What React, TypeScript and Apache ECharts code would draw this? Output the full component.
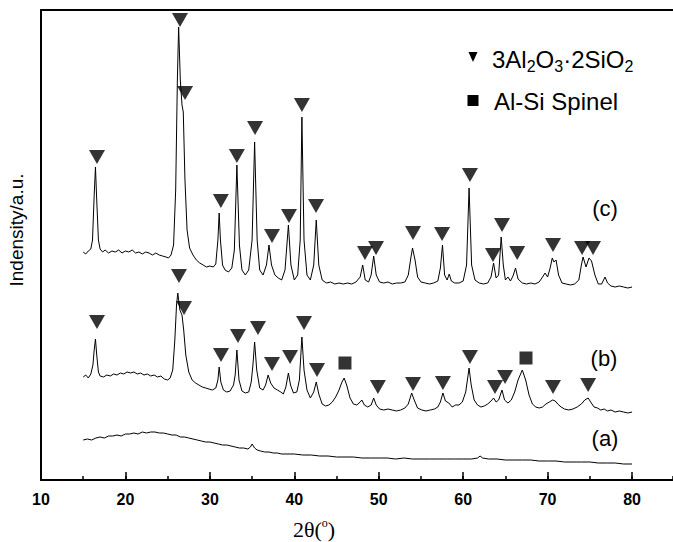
import React, { useEffect, useRef } from 'react';
import * as echarts from 'echarts';

// 2θ (degrees), intensity (a.u., offset stacked)
const traceA: [number, number][] = [
  [15.0, 40], [15.5, 41], [16.0, 40], [16.5, 42], [17.0, 43], [17.5, 42], [18.0, 44], [18.5, 44], [19.0, 45],
  [19.5, 44], [20.0, 46], [20.5, 46], [21.0, 47], [21.5, 46], [22.0, 48], [22.5, 47], [23.0, 48], [23.5, 48],
  [24.0, 47], [24.5, 47], [25.0, 46], [25.5, 45], [26.0, 45], [26.5, 43], [27.0, 43], [27.5, 42], [28.0, 41],
  [28.5, 40], [29.0, 39], [29.5, 38], [30.0, 38], [30.5, 37], [31.0, 36], [31.5, 35], [32.0, 35], [32.5, 34],
  [33.0, 33], [33.5, 32], [34.0, 32], [34.5, 31], [34.8, 33], [35.0, 36], [35.3, 32], [35.6, 30], [36.0, 29],
  [36.5, 28], [37.0, 28], [37.5, 27], [38.0, 27], [38.5, 26], [39.0, 26], [40.0, 26], [41.0, 25], [42.0, 25],
  [43.0, 24], [44.0, 24], [45.0, 23], [46.0, 23], [47.0, 23], [48.0, 22], [49.0, 22], [50.0, 22], [51.0, 22],
  [52.0, 21], [53.0, 22], [54.0, 21], [55.0, 21], [56.0, 21], [57.0, 21], [58.0, 21], [59.0, 21], [60.0, 21],
  [61.0, 21], [61.7, 22], [62.0, 24], [62.3, 22], [63.0, 21], [64.0, 21], [65.0, 20], [66.0, 20], [67.0, 20],
  [68.0, 20], [69.0, 19], [70.0, 19], [71.0, 19], [72.0, 18], [73.0, 18], [74.0, 18], [75.0, 18], [76.0, 17],
  [77.0, 17], [78.0, 17], [79.0, 16], [80.0, 16],
];

const traceB: [number, number][] = [
  [15.0, 103], [15.3, 105], [15.6, 102], [15.9, 106], [16.15, 115], [16.3, 130], [16.45, 141], [16.6, 125],
  [16.8, 108], [17.0, 104], [17.4, 103], [17.8, 105], [18.2, 104], [18.6, 106], [19.0, 105], [19.4, 107],
  [19.8, 106], [20.2, 108], [20.6, 107], [21.0, 108], [21.4, 106], [21.8, 107], [22.2, 105], [22.6, 106],
  [23.0, 104], [23.4, 105], [23.8, 103], [24.2, 104], [24.6, 101], [25.0, 100], [25.3, 102], [25.6, 110],
  [25.85, 140], [26.05, 175], [26.2, 187], [26.45, 170], [26.7, 165], [26.9, 150], [27.15, 125], [27.5, 108],
  [27.9, 100], [28.3, 97], [28.7, 95], [29.1, 93], [29.5, 92], [29.9, 91], [30.3, 90], [30.7, 92], [30.95, 100],
  [31.1, 113], [31.3, 98], [31.6, 90], [32.0, 88], [32.4, 89], [32.8, 95], [33.0, 105], [33.2, 130], [33.45, 100],
  [33.8, 89], [34.2, 87], [34.6, 88], [34.9, 98], [35.1, 115], [35.3, 138], [35.55, 110], [35.9, 92], [36.3, 90],
  [36.6, 95], [36.9, 105], [37.2, 97], [37.6, 92], [38.0, 90], [38.4, 88], [38.7, 86], [39.0, 93], [39.3, 107],
  [39.55, 95], [39.9, 87], [40.3, 88], [40.6, 100], [40.9, 143], [41.15, 110], [41.5, 90], [41.9, 82], [42.3, 88],
  [42.6, 98], [42.9, 86], [43.3, 76], [43.7, 74], [44.1, 75], [44.5, 78], [44.9, 83], [45.3, 90], [45.6, 97],
  [45.9, 102], [46.2, 95], [46.6, 82], [47.0, 76], [47.4, 75], [47.8, 78], [48.0, 80], [48.3, 75], [48.7, 73],
  [49.1, 75], [49.4, 82], [49.7, 75], [50.1, 71], [50.6, 70], [51.1, 71], [51.6, 70], [52.1, 69], [52.6, 70],
  [53.1, 72], [53.5, 76], [53.9, 87], [54.2, 80], [54.6, 72], [55.1, 70], [55.6, 69], [56.1, 70], [56.6, 71],
  [57.0, 73], [57.3, 78], [57.6, 87], [57.9, 79], [58.3, 77], [58.7, 73], [59.1, 75], [59.5, 75], [59.9, 78],
  [60.3, 88], [60.5, 100], [60.7, 112], [60.95, 95], [61.3, 80], [61.7, 75], [62.1, 73], [62.5, 74], [62.9, 76],
  [63.3, 79], [63.6, 82], [63.9, 78], [64.2, 80], [64.6, 90], [64.9, 80], [65.3, 77], [65.7, 80], [66.1, 88],
  [66.5, 100], [67.0, 110], [67.4, 100], [67.8, 85], [68.2, 76], [68.6, 73], [69.0, 72], [69.4, 73], [69.8, 76],
  [70.2, 78], [70.6, 80], [70.9, 79], [71.2, 76], [71.6, 73], [72.0, 71], [72.5, 70], [73.0, 71], [73.5, 73],
  [74.0, 76], [74.4, 80], [74.8, 82], [75.1, 78], [75.5, 73], [75.9, 72], [76.3, 70], [76.7, 71], [77.1, 69],
  [77.5, 70], [78.0, 68], [78.5, 69], [79.0, 68], [79.5, 67], [80.0, 68],
];

const traceC: [number, number][] = [
  [15.0, 228], [15.3, 226], [15.6, 229], [15.9, 231], [16.1, 240], [16.3, 285], [16.45, 313], [16.6, 280],
  [16.8, 240], [17.0, 231], [17.3, 228], [17.6, 230], [18.0, 227], [18.4, 229], [18.8, 228], [19.2, 230],
  [19.6, 227], [20.0, 229], [20.4, 228], [20.8, 230], [21.2, 227], [21.6, 228], [22.0, 226], [22.4, 228],
  [22.8, 227], [23.2, 225], [23.6, 227], [24.0, 225], [24.4, 224], [24.8, 223], [25.1, 222], [25.4, 225],
  [25.7, 235], [25.95, 290], [26.15, 400], [26.3, 453], [26.5, 400], [26.7, 375], [26.85, 368], [27.05, 300],
  [27.3, 250], [27.6, 232], [28.0, 225], [28.4, 220], [28.8, 217], [29.2, 215], [29.6, 213], [30.0, 214],
  [30.4, 213], [30.7, 216], [30.95, 240], [31.1, 267], [31.25, 240], [31.5, 215], [31.8, 210], [32.2, 208],
  [32.6, 212], [32.9, 230], [33.2, 315], [33.5, 235], [33.8, 210], [34.2, 205], [34.6, 210], [35.0, 240],
  [35.3, 338], [35.6, 240], [35.9, 210], [36.3, 205], [36.7, 215], [37.0, 235], [37.3, 215], [37.7, 205],
  [38.1, 202], [38.5, 200], [38.9, 210], [39.3, 255], [39.6, 215], [40.0, 200], [40.4, 205], [40.7, 240],
  [40.9, 363], [41.15, 240], [41.5, 205], [41.9, 200], [42.3, 215], [42.6, 260], [42.9, 215], [43.3, 200],
  [43.8, 197], [44.3, 198], [44.8, 196], [45.3, 197], [45.8, 196], [46.3, 197], [46.8, 196], [47.3, 198],
  [47.8, 203], [48.1, 215], [48.4, 200], [48.8, 198], [49.1, 205], [49.4, 224], [49.7, 205], [50.1, 198],
  [50.6, 197], [51.1, 198], [51.6, 196], [52.1, 197], [52.6, 197], [53.1, 198], [53.5, 205], [53.8, 222],
  [54.0, 232], [54.3, 220], [54.6, 203], [55.0, 198], [55.5, 197], [56.0, 196], [56.5, 197], [57.0, 199],
  [57.3, 212], [57.55, 235], [57.8, 205], [58.1, 200], [58.35, 206], [58.6, 199], [59.0, 197], [59.5, 197],
  [60.0, 199], [60.4, 215], [60.7, 292], [61.0, 215], [61.4, 200], [61.9, 197], [62.4, 196], [62.9, 197],
  [63.3, 203], [63.6, 217], [63.9, 202], [64.2, 205], [64.5, 243], [64.75, 215], [65.0, 200], [65.3, 203],
  [65.6, 199], [65.9, 204], [66.2, 212], [66.5, 201], [67.0, 197], [67.5, 196], [68.0, 197], [68.5, 196],
  [69.0, 198], [69.4, 203], [69.7, 207], [70.0, 203], [70.3, 212], [70.55, 222], [70.75, 218], [71.0, 220],
  [71.3, 205], [71.7, 197], [72.2, 196], [72.7, 195], [73.2, 196], [73.7, 200], [74.0, 215], [74.2, 223],
  [74.55, 213], [74.9, 222], [75.2, 219], [75.6, 205], [76.0, 196], [76.4, 196], [76.8, 203], [77.1, 197],
  [77.5, 194], [78.0, 193], [78.5, 194], [79.0, 193], [79.5, 192], [80.0, 193],
];

// mullite (3Al2O3·2SiO2) markers
const mulliteC: [number, number][] = [
  [16.63, 323], [26.46, 460], [27.06, 387], [31.3, 279], [33.2, 324], [35.35, 352], [37.36, 244], [39.37, 264],
  [40.9, 375], [42.57, 274], [48.37, 227], [49.68, 232], [54.06, 247], [57.5, 246], [60.8, 305], [63.53, 225],
  [64.6, 255], [66.4, 227], [70.64, 235], [74.08, 232], [75.38, 232],
];
const mulliteB: [number, number][] = [
  [16.63, 158], [26.34, 204], [26.94, 172], [31.32, 125], [33.33, 144], [35.7, 152], [37.36, 116], [39.5, 123],
  [41.15, 157], [42.69, 110], [49.9, 93], [54.06, 96], [57.6, 97], [60.8, 123], [63.77, 93], [64.96, 103],
  [70.64, 93], [74.8, 95],
];
// Al-Si spinel markers
const spinelB: [number, number][] = [[46.0, 117], [67.44, 122]];

const xTickValues = [10, 20, 30, 40, 50, 60, 70, 80];
const sampleLabels = ['(a)', '(b)', '(c)'];
const legendLabels = ['3Al2O3·2SiO2', 'Al-Si Spinel'];
const yTitle = 'Indensity/a.u.';

const SANS = '"Liberation Sans", Arial, Helvetica, sans-serif';
const SERIF = '"Liberation Serif", "Times New Roman", serif';

export default function App() {
  const ref = useRef<HTMLDivElement>(null);
  useEffect(() => {
    if (!ref.current) return;
    const chart = echarts.init(ref.current, null, { renderer: 'svg' });
    const lineSeries = (data: [number, number][]) => ({
      type: 'line', data, showSymbol: false, symbol: 'none', silent: true,
      lineStyle: { color: '#000', width: 1 }, xAxisIndex: 0, yAxisIndex: 0, z: 2,
    });
    const triSeries = (name: string, data: [number, number][]) => ({
      type: 'scatter', name, data, symbol: 'triangle', symbolRotate: 180, symbolSize: [16, 14],
      itemStyle: { color: '#000' }, xAxisIndex: 0, yAxisIndex: 0, z: 3, silent: true,
    });
    const hiddenAxis = { axisLabel: { show: false }, splitLine: { show: false } };
    const X_MAX = 84.85;
    const option: any = {
      animation: false,
      backgroundColor: '#fff',
      grid: { left: 41, right: 0, top: 10, bottom: 62, containLabel: false },
      xAxis: [
        {
          type: 'value', min: 10, max: X_MAX, interval: 10, position: 'bottom',
          axisLine: { show: true, lineStyle: { color: '#000', width: 2 } },
          axisTick: { show: true, inside: true, length: 8, lineStyle: { color: '#000', width: 1.5 } },
          axisLabel: {
            show: true, margin: 11, fontSize: 16, fontWeight: 'bold', color: '#000', fontFamily: SANS,
            showMaxLabel: false,
            formatter: (v: number) => (xTickValues.includes(v) ? String(v) : ''),
          },
          splitLine: { show: false },
        },
        {
          type: 'value', min: 10, max: X_MAX, interval: 5, position: 'bottom',
          axisLine: { show: false },
          axisTick: { show: true, inside: true, length: 4, lineStyle: { color: '#000', width: 1.5 } },
          ...hiddenAxis,
        },
        {
          type: 'value', min: 10, max: X_MAX, position: 'top',
          axisLine: { show: true, lineStyle: { color: '#000', width: 2 } },
          axisTick: { show: false }, ...hiddenAxis,
        },
      ],
      yAxis: {
        type: 'value', min: 0, max: 470,
        axisLine: { show: true, lineStyle: { color: '#000', width: 2 } },
        axisTick: { show: false }, ...hiddenAxis,
      },
      series: [
        lineSeries(traceA),
        lineSeries(traceB),
        lineSeries(traceC),
        triSeries(legendLabels[0], mulliteC),
        triSeries(legendLabels[0], mulliteB),
        {
          type: 'scatter', name: legendLabels[1], data: spinelB, symbol: 'rect', symbolSize: 13,
          itemStyle: { color: '#000' }, xAxisIndex: 0, yAxisIndex: 0, z: 3, silent: true,
        },
      ],
      graphic: [
        {
          type: 'text', x: 16, y: 230, rotation: Math.PI / 2,
          style: { text: yTitle, fontSize: 19, fontFamily: SANS, fill: '#000', align: 'center', verticalAlign: 'middle' },
        },
        {
          type: 'text', x: 314, y: 529,
          style: {
            text: '{a|2θ(}{b|o}{a|)}', fill: '#000', align: 'center', verticalAlign: 'middle',
            rich: {
              a: { fontSize: 22, fontFamily: SERIF, fill: '#000', lineHeight: 24 },
              b: { fontSize: 12, fontFamily: SERIF, fill: '#000', lineHeight: 12, verticalAlign: 'top' },
            },
          },
        },
        { type: 'polygon', shape: { points: [[468.5, 52], [477.5, 52], [473, 62]] }, style: { fill: '#000' } },
        {
          type: 'text', x: 492, y: 59,
          style: {
            text: '{m|3Al}{s|2}{m|O}{s|3}{m|·2SiO}{s|2}', align: 'left', verticalAlign: 'middle', fill: '#000',
            rich: {
              m: { fontSize: 24, fontFamily: SANS, fill: '#000' },
              s: { fontSize: 16, fontFamily: SANS, fill: '#000', padding: [14, 0, 0, 0] },
            },
          },
        },
        { type: 'rect', shape: { x: 467.5, y: 95, width: 11, height: 11 }, style: { fill: '#000' } },
        {
          type: 'text', x: 494, y: 101,
          style: { text: legendLabels[1], fontSize: 24, fontFamily: SANS, fill: '#000', align: 'left', verticalAlign: 'middle' },
        },
        {
          type: 'text', x: 605, y: 438,
          style: { text: sampleLabels[0], fontSize: 22, fontFamily: SANS, fill: '#000', align: 'center', verticalAlign: 'middle' },
        },
        {
          type: 'text', x: 604, y: 358,
          style: { text: sampleLabels[1], fontSize: 22, fontFamily: SANS, fill: '#000', align: 'center', verticalAlign: 'middle' },
        },
        {
          type: 'text', x: 605, y: 208,
          style: { text: sampleLabels[2], fontSize: 22, fontFamily: SANS, fill: '#000', align: 'center', verticalAlign: 'middle' },
        },
      ],
    };
    chart.setOption(option);
    return () => chart.dispose();
  }, []);
  return (
    <div
      ref={ref}
      style={{ position: 'fixed', left: 0, top: 0, width: 673, height: 542, background: '#fff' }}
    />
  );
}
